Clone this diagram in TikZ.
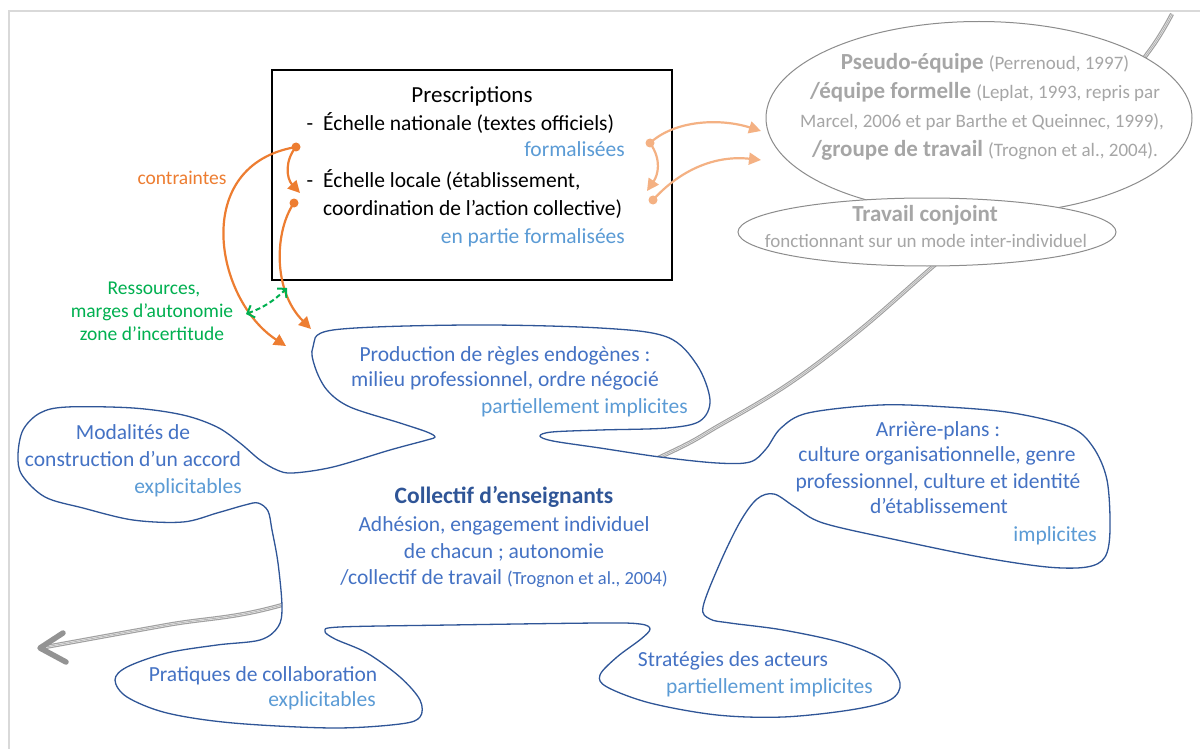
\documentclass[tikz,border=0pt]{standalone}
\usepackage{fontspec}
\setmainfont{Carlito}
\usetikzlibrary{arrows.meta,shapes.geometric}
\definecolor{orng}{HTML}{ED7D31}
\definecolor{lorng}{HTML}{F4B183}
\definecolor{grn}{HTML}{00B050}
\definecolor{btxt}{HTML}{4472C4}
\definecolor{lbtxt}{HTML}{5B9BD5}
\definecolor{dbtxt}{HTML}{2F5597}
\definecolor{bline}{HTML}{2F5597}
\definecolor{gtxt}{HTML}{A6A6A6}
\definecolor{gline}{HTML}{8C8C8C}
\definecolor{framec}{HTML}{D9D9D9}
\newcommand{\bigf}{\fontsize{23}{26}\selectfont}
\newcommand{\smallf}{\fontsize{19}{22}\selectfont}
\tikzset{
  txt/.style={inner sep=0pt, anchor=base, font=\fontsize{21.5}{25}\selectfont},
  rtxt/.style={txt, anchor=base east},
  ltxt/.style={txt, anchor=base west},
  stxt/.style={txt, font=\fontsize{19.5}{23}\selectfont},
  oarrow/.style={draw=orng, line width=2.2pt, -{Triangle[length=12pt,width=12pt]}},
  larrow/.style={draw=lorng, line width=2.2pt, -{Triangle[length=12pt,width=12pt]}},
  garrow/.style={draw=grn, line width=2pt, dash pattern=on 5pt off 3pt, {Straight Barb[length=6pt,width=13pt,line width=2pt]}-{Straight Barb[length=6pt,width=13pt,line width=2pt]}},
  blob/.style={draw=bline, line width=1.3pt, fill=white},
  gell/.style={ellipse, draw=gline, line width=1pt, fill=white, inner sep=0pt},
  bigarrow/.style={draw=gray!75, line width=1.1pt, double=gray!20, double distance=2pt},
  bigarrowmid/.style={draw=gray!70, line width=0.5pt},
}
\begin{document}
\begin{tikzpicture}[x=1pt,y=-1pt]
\useasboundingbox (0,0) rectangle (1200,749);
\clip (0,0) rectangle (1200,749);
\fill[white] (0,0) rectangle (1200,749);
% frame
\draw[framec, line width=1.2pt] (9,760) -- (9,11) -- (1210,11);

% big gray arrow (passes behind shapes)
\coordinate (ga0) at (1172,14);
\coordinate (ga1) at (40,648);
\draw[bigarrow] plot[smooth, tension=0.6] coordinates {(ga0) (1150,50) (1100,112) (1020,192) (937,263) (860,330) (790,383) (720,425) (658,458) (470,540) (282,605) (167,625) (ga1)};
\draw[bigarrowmid] plot[smooth, tension=0.6] coordinates {(ga0) (1150,50) (1100,112) (1020,192) (937,263) (860,330) (790,383) (720,425) (658,458) (470,540) (282,605) (167,625) (ga1)};
\draw[gray!85, line width=5.5pt, line cap=round, line join=round] (63,633) -- (ga1) -- (66,662);

% blob
\path[blob] plot[smooth cycle, tension=0.55] coordinates {
(313,347) (333,330) (467,325) (600,328) (667,337) (697,365) (710,400) (700,421) (667,428) (600,430) (552,432) (540,436) (553,441) (600,448) (660,457) (717,463) (750,462)
(766,449) (781,428) (808,413) (880,405) (947,407) (1013,413) (1070,427) (1093,447) (1107,480) (1110,530) (1105,557) (1087,567) (1047,567) (980,557) (897,540) (823,523) (795,507) (774,494) (757,499) (740,522) (720,563) (703,607) (710,619) (730,623) (783,630) (843,643) (883,660) (900,683) (890,700) (850,710) (783,717) (717,715) (650,703) (607,687) (600,675) (617,657) (641,639) (650,629) (640,624) (600,623) (450,625) (340,627) (325,631) (335,639) (367,653) (400,677) (420,700) (420,717) (400,724) (333,728) (233,723) (167,713) (127,697) (115,680) (127,667) (167,653) (217,645) (260,640) (278,627) (282,607) (278,563) (272,530) (268,511) (258,503) (245,505) (217,513) (183,522) (133,520) (83,508) (45,497) (22,475) (18,455) (23,430) (40,413) (67,407) (133,408) (183,415) (217,427) (240,443) (260,460) (277,470) (293,473) (333,467) (390,450) (427,440) (435,437) (427,432) (400,423) (350,407) (327,390) (315,367)};

% gray ellipses
\node[gell, minimum width=426pt, minimum height=193pt] (pseudo) at (979,118) {};
\node[gell, minimum width=378pt, minimum height=68pt] (conj) at (927,232) {};

\node[txt, text=gtxt] (t1) at (985,70) {\bigf\bfseries Pseudo-équipe \smallf\mdseries (Perrenoud, 1997)};
\node[txt, text=gtxt] (t2) at (985,99) {\bigf\bfseries /équipe formelle \smallf\mdseries (Leplat, 1993, repris par};
\node[txt, text=gtxt] (t3) at (982,128) {\smallf Marcel, 2006 et par Barthe et Queinnec, 1999),};
\node[txt, text=gtxt] (t4) at (985,157) {\bigf\bfseries /groupe de travail \smallf\mdseries (Trognon et al., 2004).};
\node[txt, text=gtxt] (t5) at (925,222) {\bigf\bfseries Travail conjoint};
\node[txt, text=gtxt] (t6) at (926,247) {\smallf fonctionnant sur un mode inter-individuel};

% prescriptions box
\node[draw=black, line width=1.3pt, minimum width=400pt, minimum height=210pt, inner sep=0pt] (presc) at (472,175) {};
\node[txt] (p0) at (472,103) {\fontsize{23}{26}\selectfont Prescriptions};
\node[txt] (p1d) at (310,131) {-};
\node[ltxt] (p1) at (323,131) {Échelle nationale (textes officiels)};
\node[rtxt, text=lbtxt] (p2) at (625,157) {formalisées};
\node[txt] (p3d) at (310,188) {-};
\node[ltxt] (p3) at (323,188) {Échelle locale (établissement,};
\node[ltxt] (p4) at (323,215) {coordination de l’action collective)};
\node[rtxt, text=lbtxt] (p5) at (625,243) {en partie formalisées};

% orange arrows
\coordinate (o1) at (296,147);
\coordinate (o1e) at (300,193);
\coordinate (o2e) at (286,346);
\coordinate (o3) at (294,203);
\coordinate (o3e) at (311,329);
\draw[oarrow] (o1) .. controls (285,160) and (286,178) .. (o1e);
\draw[oarrow] (o1) .. controls (190,165) and (215,300) .. (o2e);
\draw[oarrow] (o3) .. controls (275,230) and (272,290) .. (o3e);
\fill[orng] (o1) circle (4.5pt) (o3) circle (4.5pt);

% light orange arrows
\coordinate (l1) at (650,143);
\coordinate (l1e) at (647,191);
\coordinate (l2e) at (761,131);
\coordinate (l3) at (653,200);
\coordinate (l3e) at (761,160);
\draw[larrow] (l1) .. controls (662,160) and (658,175) .. (l1e);
\draw[larrow] (l1) .. controls (675,120) and (720,118) .. (l2e);
\draw[larrow] (l3) .. controls (680,170) and (715,155) .. (l3e);
\fill[lorng] (l1) circle (4.5pt) (l3) circle (4.5pt);

% green
\coordinate (g1) at (246,314);
\coordinate (g2) at (287,288);
\draw[garrow] (g1) to[bend right=12] (g2);

% side labels
\node[stxt, text=orng] (c1) at (182,185) {contraintes};
\node[stxt, text=grn] (r1) at (154,294) {Ressources,};
\node[stxt, text=grn] (r2) at (152,317) {marges d’autonomie};
\node[stxt, text=grn] (r3) at (152,340) {zone d’incertitude};

% blob texts
\node[txt, text=btxt] (b1) at (505,361) {Production de règles endogènes :};
\node[txt, text=btxt] (b2) at (505,386) {milieu professionnel, ordre négocié};
\node[rtxt, text=lbtxt] (b3) at (688,413) {partiellement implicites};

\node[txt, text=btxt] (m1) at (133,439) {Modalités de};
\node[txt, text=btxt] (m2) at (133,466) {construction d’un accord};
\node[rtxt, text=lbtxt] (m3) at (242,493) {explicitables};

\node[txt, text=dbtxt] (k1) at (504,503) {\fontsize{23.5}{27}\selectfont\bfseries Collectif d’enseignants};
\node[txt, text=btxt] (k2) at (504,531) {Adhésion, engagement individuel};
\node[txt, text=btxt] (k3) at (504,558) {de chacun ; autonomie};
\node[txt, text=btxt] (k4) at (504,584) {/collectif de travail \fontsize{18.5}{22}\selectfont(Trognon et al., 2004)};

\node[txt, text=btxt] (a1) at (938,436) {Arrière-plans :};
\node[txt, text=btxt] (a2) at (937,461) {culture organisationnelle, genre};
\node[txt, text=btxt] (a3) at (938,488) {professionnel, culture et identité};
\node[txt, text=btxt] (a4) at (939,513) {d’établissement};
\node[rtxt, text=lbtxt] (a5) at (1097,541) {implicites};

\node[txt, text=btxt] (s1) at (733,666) {Stratégies des acteurs};
\node[rtxt, text=lbtxt] (s2) at (873,693) {partiellement implicites};

\node[txt, text=btxt] (q1) at (263,681) {Pratiques de collaboration};
\node[rtxt, text=lbtxt] (q2) at (376,706) {explicitables};
\end{tikzpicture}
\end{document}
